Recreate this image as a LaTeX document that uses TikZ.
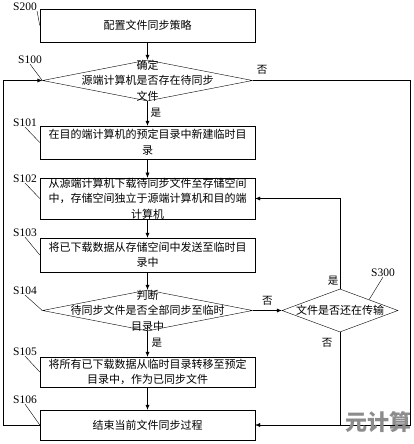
\documentclass[tikz,border=0pt]{standalone}
\usepackage{fontspec}
\setmainfont{Liberation Serif}
\newfontfamily\cjk{Noto Sans CJK SC}
\usetikzlibrary{shapes.geometric,arrows.meta}

\begin{document}
\begin{tikzpicture}[x=1pt,y=-1pt,
            >={Latex[length=5pt,width=4pt]},
            box/.style={draw, minimum width=215pt, inner sep=0pt, align=center,
                        font=\cjk\fontsize{11}{15.5}\selectfont},
            dec/.style={draw, shape=diamond, inner sep=0pt},
            txt/.style={align=center, inner sep=0pt, font=\cjk\fontsize{11}{15.5}\selectfont},
            tag/.style={inner sep=0pt, font=\fontsize{11.5}{12}\selectfont},
            yn/.style={inner sep=0pt, font=\cjk\fontsize{10.5}{12}\selectfont}]
        \useasboundingbox (0,0) rectangle (414,444);

        \node[box, minimum height=33pt] (s200) at (147.5,25.5) {配置文件同步策略};
        \node[dec, minimum width=210pt, minimum height=41pt] (s100) at (147.5,80.5) {};
        \node[txt] (t100) at (s100.center) {确定\\源端计算机是否存在待同步\\文件};
        \node[box, minimum height=33pt] (s101) at (147.5,142.5) {在目的端计算机的预定目录中新建临时目\\录};
        \node[box, minimum height=41pt] (s102) at (147.5,198.5) {从源端计算机下载待同步文件至存储空间\\中，存储空间独立于源端计算机和目的端\\计算机};
        \node[box, minimum height=34pt] (s103) at (147.5,255) {将已下载数据从存储空间中发送至临时目\\录中};
        \node[dec, minimum width=210pt, minimum height=41pt] (s104) at (147.5,310.5) {};
        \node[txt] (t104) at (s104.center) {判断\\待同步文件是否全部同步至临时\\目录中};
        \node[dec, minimum width=116pt, minimum height=43pt] (s300) at (340,310.5) {};
        \node[txt] (t300) at (s300.center) {文件是否还在传输};
        \node[box, minimum height=30pt] (s105) at (147.5,372) {将所有已下载数据从临时目录转移至预定\\目录中，作为已同步文件};
        \node[box, minimum height=30pt] (s106) at (147.5,425) {结束当前文件同步过程};

        % main flow
        \draw[->] (s200) -- (s100);
        \draw[->] (s100) -- node[yn, right=3pt, pos=0.45]{是} (s101);
        \draw[->] (s101) -- (s102);
        \draw[->] (s102) -- (s103);
        \draw[->] (s103) -- (s104);
        \draw[->] (s104) -- node[yn, right=4pt, pos=0.45]{是} (s105);
        \draw[->] (s105) -- (s106);
        \draw[->] (s104) -- node[yn, above=5pt]{否} (s300);

        % loops
        \coordinate (r1) at (410,80.5);
        \coordinate (r2) at (410,425);
        \coordinate (l1) at (3,425);
        \coordinate (l2) at (3,80.5);
        \draw[->] (s100.east) -- (r1) -- (r2) -- (s106.east);
        \node[yn] (n100) at (262,70) {否};
        \draw[->] (s300.north) -- (s300.north |- s102.east) -- (s102.east);
        \node[yn] (y300) at (333,281) {是};
        \draw (s300.south) -- (s300.south |- s106.east);
        \node[yn] (n300) at (327,343) {否};
        \draw[->] (s106.west) -- (l1) -- (l2) -- (s100.west);

        % step tags
        \node[tag] (g200) at (25,7) {S200};
        \node[tag] (g100) at (30,60) {S100};
        \node[tag] (g101) at (25,123) {S101};
        \node[tag] (g102) at (25,179) {S102};
        \node[tag] (g103) at (25,233) {S103};
        \node[tag] (g104) at (25,291) {S104};
        \node[tag] (g105) at (25,352) {S105};
        \node[tag] (g106) at (25,400) {S106};
        \node[tag] (g300) at (383,273) {S300};
        \draw (g200.south east) -- (s200.west);
        \draw (g100.south) -- (s100.west);
        \draw (g101.south) -- (s101.west);
        \draw (g102.south) -- (s102.west);
        \draw (g103.south) -- (s103.west);
        \draw (g104.south) -- (s104.west);
        \draw (g105.south) -- (s105.west);
        \draw (g106.south) -- (s106.west);
        \draw (g300.south) -- (s300.north east);

        \node[inner sep=0pt, text=black!45, font=\cjk\bfseries\fontsize{22}{24}\selectfont] (wm) at (378,422) {元计算};
    \end{tikzpicture}
\end{document}
